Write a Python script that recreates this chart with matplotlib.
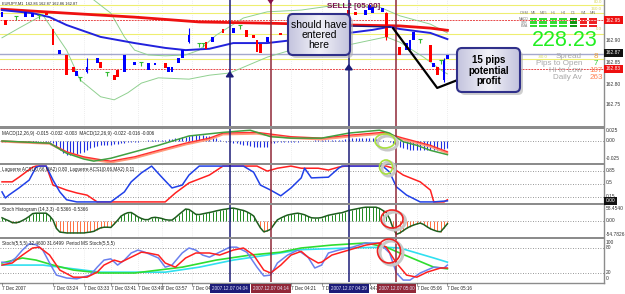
import numpy as np
import matplotlib.pyplot as plt
import matplotlib.transforms as mtrans
from matplotlib.patches import FancyBboxPatch, Ellipse, Rectangle
from matplotlib.colors import LinearSegmentedColormap

plt.rcParams['font.family'] = ['Liberation Sans', 'DejaVu Sans']

W, H = 625, 294

# ---------------- price panel (EURJPY M1) ----------------
candle_bar = [0, 1, 7, 9, 13, 15, 17, 19, 21, 22, 25, 28, 29, 33, 34, 36, 39, 43, 45, 48,
              49, 50, 52, 53, 55, 60, 62, 65, 68, 72, 74, 75, 76, 78, 82, 102, 104, 107,
              108, 109, 112, 113, 117, 119, 120, 121, 126, 127, 128, 130, 131]
candle_open = [162.952, 162.945, 162.952, 162.952, 162.961, 162.925, 162.868, 162.866, 162.839, 162.818,
               162.827, 162.848, 162.850, 162.820, 162.832, 162.827, 162.843, 162.832, 162.843, 162.848,
               162.827, 162.827, 162.848, 162.859, 162.895, 162.895, 162.895, 162.925, 162.916, 162.923,
               162.911, 162.900, 162.890, 162.895, 162.916, 162.968, 162.964, 162.957, 162.968, 162.961,
               162.964, 162.961, 162.884, 162.877, 162.877, 162.900, 162.889, 162.839, 162.839, 162.809,
               162.857]
candle_close = [162.964, 162.934, 162.964, 162.961, 162.957, 162.889, 162.877, 162.820, 162.827, 162.830,
                162.839, 162.859, 162.836, 162.809, 162.816, 162.866, 162.850, 162.848, 162.848, 162.836,
                162.839, 162.839, 162.859, 162.877, 162.911, 162.880, 162.907, 162.916, 162.927, 162.907,
                162.904, 162.873, 162.870, 162.907, 162.911, 162.957, 162.957, 162.968, 162.980, 162.975,
                162.973, 162.907, 162.866, 162.893, 162.900, 162.918, 162.850, 162.848, 162.820, 162.855,
                162.866]
wick_bar = [25, 55, 113, 130]
wick_hi = [162.859, 162.927, 162.964, 162.859]
wick_lo = [162.825, 162.893, 162.900, 162.805]
doji_bar = [4, 11, 23, 31, 41, 58, 59, 70, 123, 129]
doji_price = [162.955, 162.957, 162.816, 162.827, 162.850, 162.893, 162.893, 162.934, 162.902, 162.855]

ma_slow_bar = [0, 19, 39, 58, 79, 102, 117, 126, 131]
ma_slow = [162.970, 162.961, 162.952, 162.941, 162.938, 162.934, 162.932, 162.927, 162.922]
ma_fast_bar = [0, 9, 14, 19, 29, 39, 48, 54, 61, 68, 78, 88, 102, 109, 114, 117, 126, 131]
ma_fast = [162.968, 162.961, 162.952, 162.934, 162.907, 162.893, 162.882, 162.877, 162.880, 162.893,
           162.893, 162.902, 162.916, 162.923, 162.930, 162.925, 162.916, 162.902]
band_up_bar = [27, 32, 36, 39, 43, 48, 54, 58, 63, 71, 78, 88, 99, 111, 117, 126, 131]
band_up = [162.991, 162.961, 162.907, 162.877, 162.866, 162.864, 162.866, 162.877, 162.911, 162.950,
           162.964, 162.968, 162.980, 162.975, 162.955, 162.936, 162.916]
band_lo_bar = [0, 5, 12, 14, 19, 23, 29, 33, 37, 41, 46, 55, 61, 67, 78, 85, 102, 113, 117, 124, 130, 131]
band_lo = [162.905, 162.927, 162.957, 162.934, 162.877, 162.809, 162.771, 162.764, 162.780, 162.802,
           162.814, 162.811, 162.820, 162.825, 162.861, 162.877, 162.889, 162.907, 162.895, 162.861,
           162.827, 162.823]

yellow_levels = [162.980, 162.962, 162.914, 162.857]
red_levels = [162.945, 162.834]
bid_price = 162.869

arrow_bar = [67, 79, 102]
arrow_price = [162.836, 162.975, 162.852]
arrow_dir = ['up', 'down', 'up']

note_bar = [115, 128, 134]
note_price = [162.927, 162.791, 162.809]

# vertical signal lines
sig_bar = [67, 79, 102, 116]
sig_color = ['#1c1c78', '#902838', '#1c1c78', '#902838']
sig_label = ['2007.12.07 04:04', '2007.12.07 04:14', '2007.12.07 04:39', '2007.12.07 05:00']

# time labels (the ones partly hidden by the line labels are cut to what shows)
time_bar = [0, 15, 24, 32, 40, 47, 56, 85, 94, 108.2, 122, 131]
time_text = ['7 Dec 2007', '7 Dec 03:24', '7 Dec 03:33', '7 Dec 03:41', '7 Dec 03:49',
             '7 Dec 03:57', '7 Dec 04', '7 Dec 04:21', '7 De', '4:47',
             '7 Dec 05:06', '7 Dec 05:16']

# ---------------- MACD (values in 0.001) ----------------
macd_hist_milli = [-1, -1, 0, 0, -1, -1, 0, 0, -1, -1, -1, 0, 0, -1, -1,
                   -3, -8, -13, -17, -19, -19, -19, -18, -17, -15, -13, -10, -8,
                   -7, -6, -6, -5, -5, -4, -4, -3, -3, -2, -2, -1, -1,
                   0, 0, 1, 1, 1, 2, 2, 2, 3, 3, 4, 4,
                   5, 6, 7, 8, 8, 8, 8, 7, 7, 6,
                   4, 2, 0, -1, -2, -3, -3, -4, -5, -6, -7, -8, -8, -9, -9, -8,
                   -3, -3, -2, -2, -2, -1, -1, -1, -1, 0, 0, 0,
                   0, 1, 1, 1, 1, 1, 2, 2, 2, 2,
                   3, 3, 4, 4, 4, 4, 4, 4, 4, 3, 3, 2,
                   0, -2, -4, -6, -8, -10, -11, -12, -13, -13, -13, -13, -13, -12, -12, -12, -11, -11, -10]
macd_g_bar = [0, 14, 19, 24, 27, 32, 39, 46, 55, 65, 73, 79, 85, 94, 102, 111, 114, 118, 122, 126, 131]
macd_g_milli = [0, -3, -17, -25, -28, -24, -15, -6, 7, 12, 15, 6, 4, 4, 11, 15, 11, -1, -6, -13, -19]
macd_r_bar = [0, 14, 19, 24, 29, 32, 39, 46, 54, 61, 65, 75, 85, 94, 102, 112, 118, 126, 131]
macd_r_milli = [0, -3, -15, -22, -26, -28, -22, -13, -3, 4, 11, 12, 6, 4, 8, 12, 4, -6, -15]
macd_s_milli = [-1, -4, -16, -23, -28, -30, -24, -15, -5, 2, 9, 10, 4, 2, 6, 10, 2, -8, -17]

# ---------------- Laguerre ----------------
lag_b_bar = [0, 1, 2, 5, 8, 10, 11, 13, 15, 17, 19, 22, 29, 32, 36, 38, 41, 44, 47, 50, 53, 55, 58,
             71, 74, 76, 79, 82, 85, 88, 89, 91, 96, 99, 100, 112, 114, 116, 119, 123, 127, 131]
lag_b = [0.28, 0.11, 0.19, 0.39, 0.61, 0.97, 1.0, 1.0, 0.61, 0.28, 0.06, 0.0, 0.0, 0.0, 0.28, 0.56,
         0.81, 1.0, 0.69, 0.39, 0.47, 0.75, 1.0, 1.0, 0.83, 0.47, 0.33, 0.17, 0.39, 0.67, 0.94, 0.67,
         0.69, 0.94, 1.0, 1.0, 0.83, 0.42, 0.19, 0.0, 0.0, 0.03]
lag_r_bar = [0, 3, 5, 9, 10, 13, 15, 19, 22, 25, 28, 39, 48, 51, 55, 61, 65, 75, 78, 81, 85, 88, 93,
             96, 99, 101, 113, 115, 118, 123, 126, 127, 130, 131]
lag_r = [0.56, 0.56, 0.69, 0.97, 1.0, 1.0, 0.47, 0.33, 0.25, 0.19, 0.0, 0.0, 0.0, 0.25, 0.53, 0.75,
         1.0, 1.0, 0.86, 0.94, 1.0, 0.94, 0.94, 0.89, 0.97, 1.0, 1.0, 0.94, 0.75, 0.56, 0.33, 0.0,
         0.0, 0.06]

# ---------------- Stoch histogram ----------------
stoch_hist = [14, 7, 1, -7, -8, -5, 2, 10, 20, 32, 34, 34, 34, 34, 22, 4, -32, -48, -50, -52,
              -52, -52, -52, -52, -52, -50, -48, -45, -37, -30, -27, -27, -28, -13, 3, 21, 30, 36, 37, 28,
              18, 11, 6, 6, 14, 16, 14, 11, 6, 4, 4, 15, 28, 40, 52, 50, 40, 29, 28, 31,
              34, 37, 40, 44, 47, 50, 52, 55, 56, 53, 49, 46, 40, 32, 22, -5, -30, -47, -43, -36,
              -15, 5, 13, 20, 26, 29, 32, 34, 31, 27, 20, 14, 13, 13, 15, 20, 25, 28, 31, 34,
              36, 41, 46, 49, 52, 55, 58, 60, 60, 60, 60, 55, 46, 37, 10, -30, -58, -52, -42, -32,
              -24, -18, -13, -9, -15, -25, -34, -40, -45, -47, -30, -12]

# ---------------- Stoch ----------------
st_b_bar = [0, 2, 4, 6, 8, 10, 12, 14, 16, 19, 22, 26, 28, 30, 32, 34, 36, 38, 40, 42, 46, 48, 50, 53,
            55, 57, 59, 61, 64, 67, 69, 72, 75, 77, 79, 81, 84, 87, 90, 92, 94, 96, 99, 103, 107,
            111, 114, 116, 118, 120, 123, 127, 130, 131]
st_b = [46, 44, 56, 75, 90, 88, 75, 44, 15, 8, 6, 15, 34, 51, 54, 39, 51, 68, 75, 70, 56, 34, 39, 68,
        80, 75, 63, 58, 70, 82, 82, 70, 34, 13, 15, 44, 63, 75, 58, 32, 39, 68, 75, 82, 92,
        92, 68, 20, 3, 3, 20, 34, 32, 39]
st_r_bar = [0, 3, 6, 9, 11, 14, 17, 21, 25, 28, 30, 33, 35, 38, 41, 43, 46, 48, 51, 54, 57, 61, 64,
            68, 71, 74, 77, 79, 82, 85, 88, 90, 93, 94, 97, 102, 107, 111, 113, 116, 119, 122, 125,
            129, 131]
st_r = [39, 44, 63, 80, 82, 63, 27, 10, 10, 22, 39, 51, 46, 58, 70, 68, 63, 44, 34, 56, 68, 68, 63,
        75, 80, 63, 27, 20, 39, 63, 72, 58, 44, 46, 63, 75, 87, 92, 82, 44, 15, 10, 22,
        32, 32]
st_g_bar = [0, 6, 10, 15, 21, 29, 39, 46, 53, 63, 73, 82, 88, 97, 107, 113, 117, 122, 127, 131]
st_g = [44, 56, 51, 39, 27, 20, 20, 27, 34, 51, 63, 70, 80, 87, 92, 82, 68, 51, 34, 30]
st_c_bar = [0, 12, 19, 29, 39, 48, 58, 68, 78, 88, 102, 112, 117, 122, 127, 131]
st_c = [39, 39, 32, 22, 22, 22, 34, 51, 63, 76, 80, 82, 80, 68, 56, 46]

# ---------------- info block ----------------
tf_names = ['M5', 'M15', 'H1', 'H4', 'D1', 'W1', 'MN']
tf_rows = ['MACD', 'STR', 'EMA']
tf_state = [['g', 'g', 'g', 'g', 'G', 'r', 'r'],
            ['g', 'g', 'g', 'g', 'G', 'r', 'r'],
            ['g', 'g', 'g', 'g', 'G', 'r', 'r']]
info_names = ['Spread', 'Pips to Open', 'Hi to Low', 'Daily Av']
info_values = ['8', '7', '107', '263']
info_colors = ['#f0a030', '#33cc33', '#ff8050', '#ff8050']
big_value = '228.23'

NAVY = '#1c1c78'
fig = plt.figure(figsize=(W / 100, H / 100), dpi=100)
fig.patch.set_facecolor('white')


def panel(top, bottom):
    a = fig.add_axes([0, 1 - bottom / H, 604 / W, (bottom - top) / H])
    a.set_xlim(-2 / 3.4, 602 / 3.4)
    a.axis('off')
    return a


ax = panel(0, 126)
ax_m = panel(128.5, 163)
ax_l = panel(165, 203)
ax_h = panel(205, 237)
ax_s = panel(239, 282)

ax.set_ylim(162.7045, 162.9909)
ax_m.set_ylim(-0.0306, 0.0174)
ax_l.set_ylim(-0.03, 1.03)
ax_h.set_ylim(-69.6, 69.6)
ax_s.set_ylim(-1.6, 101.6)

dot = (0, (1, 2))
for a in (ax, ax_m, ax_l, ax_h, ax_s):
    for b in time_bar[1:]:
        a.axvline(b, color='#dcdcdc', lw=0.5, ls=dot, zorder=0)
    for b, c in zip(sig_bar, sig_color):
        a.axvline(b, color=c, lw=1.1, zorder=4)

# price panel
for lv in yellow_levels:
    ax.axhline(lv, color='#eeee70', lw=0.8, zorder=1)
for lv in red_levels:
    ax.axhline(lv, color='#e84a4a', lw=0.7, ls=(0, (2, 1)), zorder=1)
ax.axhline(bid_price, color='#a4a8cc', lw=1, zorder=1)
ax.plot(band_up_bar, band_up, color='#90d090', lw=0.7, zorder=2)
ax.plot(band_lo_bar, band_lo, color='#90d090', lw=0.7, zorder=2)
ax.plot(ma_slow_bar, ma_slow, color='#ee1111', lw=2, zorder=2)
ax.plot(ma_fast_bar, ma_fast, color='#2222dd', lw=1.4, zorder=2)

o = np.array(candle_open)
c = np.array(candle_close)
colors = np.where(c >= o, '#0000ff', '#ff0000')
wcol = [colors[candle_bar.index(b)] for b in wick_bar]
ax.vlines(wick_bar, wick_lo, wick_hi, colors=wcol, lw=0.8, zorder=3)
ax.bar(candle_bar, c - o, bottom=o, width=0.8, color=colors, linewidth=0, zorder=3)
ax.plot(doji_bar, doji_price, ls='none', marker='_', ms=3, mew=0.8, color='#33bb33', zorder=3)
ax.plot(doji_bar, doji_price, ls='none', marker=3, ms=3, mew=0.8, color='#33bb33', zorder=3)

for b, p, d in zip(arrow_bar, arrow_price, arrow_dir):
    col = NAVY if d == 'up' else '#8a1048'
    ax.annotate('', xy=(b, p), xytext=(0, -7 if d == 'up' else 7), textcoords='offset points',
                arrowprops=dict(arrowstyle='-|>,head_width=0.22,head_length=0.3', color=col, lw=1.3),
                zorder=5)
ax.plot(note_bar, note_price, color='black', lw=1.6, zorder=6, solid_capstyle='round')

# MACD
ax_m.axhline(0, color='#777777', lw=0.6, ls=dot)
ax_m.vlines(range(len(macd_hist_milli)), 0, np.array(macd_hist_milli) / 1000, color='#2030e0', lw=0.8)
ax_m.plot(macd_r_bar, np.array(macd_s_milli) / 1000, color='#ff9a7a', lw=1.3)
ax_m.plot(macd_r_bar, np.array(macd_r_milli) / 1000, color='#ff3030', lw=1.0)
ax_m.plot(macd_g_bar, np.array(macd_g_milli) / 1000, color='#40a040', lw=1.1)

# Laguerre
for lv in (0.85, 0.5, 0.15):
    ax_l.axhline(lv, color='#777777', lw=0.6, ls=dot)
ax_l.plot(lag_r_bar, lag_r, color='#ff2020', lw=1.1)
ax_l.plot(lag_b_bar, lag_b, color='#2040e8', lw=1.1)

# Stoch histogram
sh = np.array(stoch_hist)
ax_h.axhline(0, color='#777777', lw=0.6, ls=dot)
ax_h.vlines(range(len(sh)), 0, sh, colors=np.where(sh >= 0, '#1f8a1f', '#ff7040'), lw=0.7)
ax_h.plot(range(len(sh)), sh, color='#1e5e1e', lw=1.1)

# Stoch
for lv in (80, 20):
    ax_s.axhline(lv, color='#777777', lw=0.6, ls=dot)
ax_s.plot(st_c_bar, st_c, color='#30e0f0', lw=1.2)
ax_s.plot(st_g_bar, st_g, color='#30dd30', lw=1.2)
ax_s.plot(st_b_bar, st_b, color='#6a80ee', lw=1.1)
ax_s.plot(st_r_bar, st_r, color='#ff2020', lw=1.1)

# ---------------- overlay in pixel coordinates ----------------
ov = fig.add_axes([0, 0, 1, 1])
ov.axis('off')

for y0, y1 in [(126, 128.5), (163, 165), (203, 205), (237, 239)]:
    ov.add_patch(Rectangle((0, y0), 604, y1 - y0, color='#8c8c8c', lw=0))
ov.plot([0, 604], [282.5, 282.5], color='#8c8c8c', lw=1)
ov.plot([604, 604], [0, 283], color='#8c8c8c', lw=1)

tiny = 3.3
ov.text(2, 3.5, 'EURJPY,M1  162.86 162.87 162.86 162.87', fontsize=2.8, va='center', color='#222222')
ov.text(2, 133, 'MACD(12,26,9) -0.015 -0.032 -0.003  MACD(12,26,9) -0.022 -0.016 -0.006',
        fontsize=tiny, va='center', color='#222222')
ov.text(2, 169, 'Laguerre ACS1(0.66,MA2) 0.80  Laguerre ACS1(0.66,MA2) 0.11',
        fontsize=tiny, va='center', color='#222222')
ov.text(2, 209.5, 'Stoch Histogram (14,3,3) -0.5366 -0.5366', fontsize=tiny, va='center', color='#222222')
ov.text(2, 243.5, 'Stoch(5,5,5) 32.4600 31.6499  Period MS Stoch(5,5,5)', fontsize=tiny, va='center',
        color='#222222')

# right scale labels
for t, y in [('162.90', 41), ('162.85', 62), ('162.80', 84), ('162.75', 105),
             ('0.025', 131), ('0.00', 141), ('-0.025', 159),
             ('0.85', 170), ('0.5', 183), ('0.15', 196),
             ('58.4540', 208), ('0.00', 221), ('-54.7826', 234),
             ('100', 242), ('80', 247.5), ('20', 273), ('0', 279)]:
    ov.text(606, y, t, fontsize=3.5, va='center', color='#333333')
for t, y, fc in [('162.95', 20, '#ee1010'), ('162.87', 53, '#111111'), ('162.83', 69, '#ee1010'),
                 ('0.00', 201, '#111111')]:
    ov.text(606, y, t, fontsize=3.5, va='center', color='white',
            bbox=dict(boxstyle='square,pad=0.35', fc=fc, ec='none'))
for t, x, y in [('80.0', 602, 2), ('160.0', 602, 8.5), ('0.0', 602, 29), ('-80.0', 548, 57)]:
    ov.text(x, y, t, fontsize=3.2, va='center', ha='right', color='#d8d860')

# time axis
tr = mtrans.blended_transform_factory(ax_s.transData, ov.transData)
for b, t in zip(time_bar, time_text):
    ov.plot([b, b], [283, 285], color='#666666', lw=0.5, transform=tr)
    ov.text(b, 288.5, t, fontsize=tiny, va='center', ha='left', color='#222222', transform=tr)
for b, c, t in zip(sig_bar, sig_color, sig_label):
    ov.text(b, 288.5, t, fontsize=tiny, va='center', ha='center', color='#e8e8ff', transform=tr,
            bbox=dict(boxstyle='square,pad=0.45', fc=c, ec='none'), zorder=5)

# SELL2 label
ov.text(327, 6.5, 'SELL2 [05:00]', fontsize=5.8, fontweight='bold', color='#7a1050', va='center')

# callout boxes
cmap = LinearSegmentedColormap.from_list('cb', ['#c4c4de', '#f2f2f8', '#c4c4de'])
grad = np.linspace(0, 1, 64).reshape(1, -1)
for (x0, y0, w, h) in [(288, 14, 62, 41), (457, 48, 63, 44)]:
    ov.add_patch(FancyBboxPatch((x0 + 3, y0 + 3), w, h, boxstyle='round,pad=0,rounding_size=5',
                                fc='#b0b0b0', ec='none', alpha=0.6, zorder=6))
    box = FancyBboxPatch((x0, y0), w, h, boxstyle='round,pad=0,rounding_size=5',
                         fc='none', ec='#30308a', lw=1.5, zorder=8)
    im = ov.imshow(grad, extent=(x0, x0 + w, y0 + h, y0), cmap=cmap, aspect='auto', zorder=7)
    ov.add_patch(box)
    im.set_clip_path(box)
ov.plot([350, 390], [26, 27], color=NAVY, lw=1, zorder=5)
ov.text(319, 34.5, 'should have\nentered\nhere', fontsize=7.5, ha='center', va='center',
        linespacing=1.0, color='black', zorder=9)
ov.text(488.5, 70.5, '15 pips\npotential\nprofit', fontsize=7, fontweight='bold', ha='center',
        va='center', linespacing=1.08, color='black', zorder=9)

# highlight circles
for (cx, cy, w, h, col) in [(385, 141, 20, 14, '#a8e040'), (386, 167, 13, 14, '#a8e040'),
                            (392, 219, 22, 18, '#ee2222'), (389, 251, 23, 24, '#ee2222')]:
    ov.add_patch(Ellipse((cx + 2.5, cy + 2), w, h, fill=False, ec='#c8c8c8', lw=2.2, zorder=5))
    ov.add_patch(Ellipse((cx, cy), w, h, fill=False, ec=col, lw=1.2, zorder=6))

# info block
tf_x = [533.5, 543, 553.5, 563, 573.5, 583.5, 593]
state_col = {'g': '#33dd33', 'G': '#119911', 'r': '#ee2222'}
ov.text(524, 13, 'OSM', fontsize=2.8, ha='center', va='center', color='#777777')
for x, n in zip(tf_x, tf_names):
    ov.text(x, 13, n, fontsize=2.8, ha='center', va='center', color='#777777')
for r, (name, row) in enumerate(zip(tf_rows, tf_state)):
    y = 19 + r * 3.5
    ov.text(524, y, name, fontsize=2.4, ha='center', va='center', color='#777777')
    for x, s in zip(tf_x, row):
        ov.add_patch(Rectangle((x - 3.8, y - 1.2), 7.6, 2.4, color=state_col[s], lw=0))
ov.text(565, 46.5, big_value, fontsize=15.5, ha='center', va='baseline', color='#22ee22')
for i, (n, v, vc) in enumerate(zip(info_names, info_values, info_colors)):
    y = 56 + i * 7.2
    ov.text(582, y, n, fontsize=5.8, ha='right', va='center', color='#a8a8a8')
    ov.text(596, y, v, fontsize=5.8, ha='center', va='center', color=vc)

ov.set_xlim(0, W)
ov.set_ylim(H, 0)

fig.savefig('out.png', dpi=100, facecolor='white')
